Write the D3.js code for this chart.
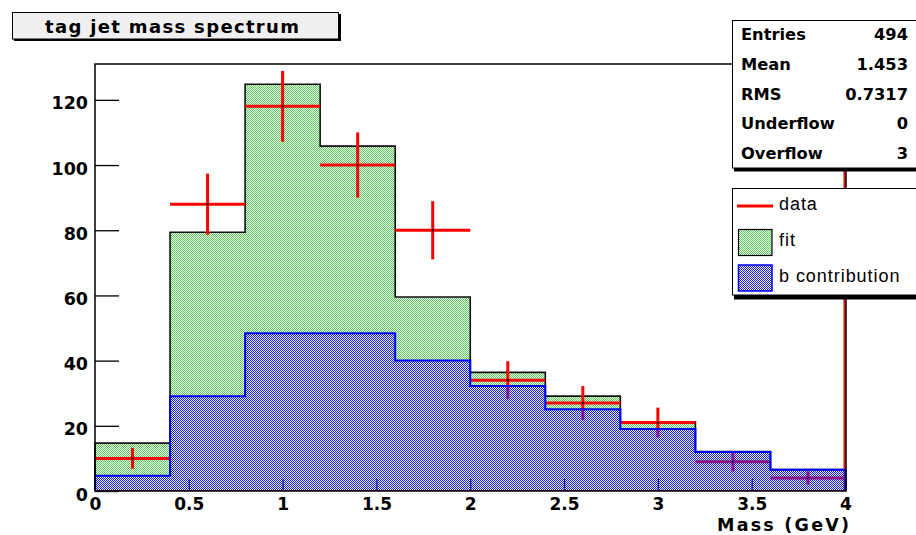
<!DOCTYPE html>
<html>
<head>
<meta charset="utf-8">
<script src="https://cdn.jsdelivr.net/npm/d3@7"></script>
<style>
  html, body { margin: 0; padding: 0; background: #fff; }
  svg { display: block; }
  .bold { font-family: "DejaVu Sans", sans-serif; font-weight: bold; }
  .reg { font-family: "Liberation Sans", Arial, sans-serif; }
</style>
</head>
<body>
<svg id="chart" width="916" height="535"></svg>
<script>
// Histogram bins (GeV) and contents
const binEdges = [0, 0.4, 0.8, 1.2, 1.6, 2.0, 2.4, 2.8, 3.2, 3.6, 4.0];
const dataCounts = [10, 88, 118, 100, 80, 34, 27, 21, 9, 4];
const fitValues = [14.7, 79.4, 124.8, 105.8, 59.5, 36.4, 29.1, 21.2, 12.1, 6.6];
const bValues = [4.7, 29.1, 48.4, 48.4, 40.0, 32.2, 25.1, 19.0, 12.0, 6.5];

// Axis ticks
const xMajorTicks = [0, 0.5, 1, 1.5, 2, 2.5, 3, 3.5, 4];
const xMinorTicks = d3.range(0, 41).map(i => i / 10);
const yMajorTicks = [0, 20, 40, 60, 80, 100, 120];
const yMinorTicks = d3.range(0, 131, 5);

// Stats and legend text
const statLabels = ["Entries", "Mean", "RMS", "Underflow", "Overflow"];
const statValues = ["494", "1.453", "0.7317", "0", "3"];
const legendLabels = ["data", "fit", "b contribution"];
const titleText = "tag jet mass spectrum";
const xTitle = "Mass (GeV)";

const svg = d3.select("#chart");
const frame = { left: 95, right: 846, top: 64, bottom: 491 };

const x = d3.scaleLinear().domain([0, 4]).range([95, 845.5]);
const y = d3.scaleLinear().domain([0, 131]).range([frame.bottom, frame.top]);

// Dotted fill patterns (half the pixels coloured, the rest see-through)
const defs = svg.append("defs");
function dotPattern(id, color, haze) {
  const p = defs.append("pattern").attr("id", id)
    .attr("patternUnits", "userSpaceOnUse").attr("width", 2).attr("height", 2);
  if (haze) p.append("rect").attr("width", 2).attr("height", 2).attr("fill", haze);
  p.append("rect").attr("x", 0).attr("y", 0).attr("width", 1).attr("height", 1).attr("fill", color);
  p.append("rect").attr("x", 1).attr("y", 1).attr("width", 1).attr("height", 1).attr("fill", color);
}
dotPattern("fitFill", "#5cc85c", "rgba(120,210,120,0.12)");
dotPattern("bFill", "#1c1cf6", "rgba(40,40,220,0.06)");

svg.append("rect").attr("width", 916).attr("height", 535).attr("fill", "#fff");

// Axes (ticks point into the frame)
const gy = svg.append("g").attr("transform", `translate(${frame.left},0)`);
gy.call(d3.axisLeft(y).tickValues(yMinorTicks).tickSize(-12).tickFormat(""));
gy.call(d3.axisLeft(y).tickValues(yMajorTicks).tickSize(-24).tickPadding(7).tickFormat(d => d));
gy.selectAll(".domain").remove();
gy.selectAll("line").attr("stroke", "#000").attr("stroke-width", 1.3);
gy.selectAll("text").attr("class", "bold").attr("font-size", 17.5)
  .attr("fill", "#000").attr("dy", null).attr("y", 9);

const gx = svg.append("g").attr("transform", `translate(0,${frame.bottom})`);
gx.call(d3.axisBottom(x).tickValues(xMinorTicks).tickSize(-6).tickFormat(""));
gx.call(d3.axisBottom(x).tickValues(xMajorTicks).tickSize(-12).tickFormat(d3.format("~g")));
gx.selectAll(".domain").remove();
gx.selectAll("line").attr("stroke", "#000").attr("stroke-width", 1.3);
gx.selectAll("text").attr("class", "bold").attr("font-size", 17).attr("fill", "#000")
  .attr("dy", null).attr("y", 18.5);

// Step outline for a binned series
function stepPoints(values) {
  const pts = [[x(binEdges[0]), y(0)]];
  values.forEach((v, i) => {
    pts.push([x(binEdges[i]), y(v)]);
    pts.push([x(binEdges[i + 1]), y(v)]);
  });
  pts.push([x(binEdges[binEdges.length - 1]), y(0)]);
  return pts;
}
const line = d3.line();

// Fit (total)
svg.append("path").attr("d", line(stepPoints(fitValues)) + "Z")
  .attr("fill", "url(#fitFill)").attr("stroke", "none");
svg.append("path").attr("d", line(stepPoints(fitValues)))
  .attr("fill", "none").attr("stroke", "#111").attr("stroke-width", 1.6);

// Data with Poisson error bars
const red = "#ff0000";
svg.append("line").attr("x1", x(0)).attr("x2", x(4)).attr("y1", y(0) - 0.5).attr("y2", y(0) - 0.5)
  .attr("stroke", red).attr("stroke-width", 1);
svg.append("line").attr("x1", x(4) - 1).attr("x2", x(4) - 1).attr("y1", frame.top).attr("y2", frame.bottom)
  .attr("stroke", red).attr("stroke-width", 2);
const gd = svg.append("g");
dataCounts.forEach((n, i) => {
  const lo = binEdges[i], hi = binEdges[i + 1], c = (lo + hi) / 2, e = Math.sqrt(n);
  gd.append("line").attr("x1", x(lo)).attr("x2", x(hi)).attr("y1", y(n)).attr("y2", y(n))
    .attr("stroke", red).attr("stroke-width", 3);
  gd.append("line").attr("x1", x(c)).attr("x2", x(c)).attr("y1", y(n + e)).attr("y2", y(n - e))
    .attr("stroke", red).attr("stroke-width", 3);
  gd.append("rect").attr("x", x(c) - 1).attr("y", y(n) - 1).attr("width", 2).attr("height", 2).attr("fill", "#000");
});

// b contribution, drawn over the data
svg.append("path").attr("d", line(stepPoints(bValues)) + "Z")
  .attr("fill", "url(#bFill)").attr("stroke", "none");
svg.append("path").attr("d", line(stepPoints(bValues)))
  .attr("fill", "none").attr("stroke", "#0000ff").attr("stroke-width", 2);

// Frame
svg.append("rect").attr("x", frame.left).attr("y", frame.top)
  .attr("width", frame.right - frame.left).attr("height", frame.bottom - frame.top)
  .attr("fill", "none").attr("stroke", "#000").attr("stroke-width", 1.5);

// X axis title
svg.append("text").attr("class", "bold").attr("x", 849).attr("y", 530.5)
  .attr("text-anchor", "end").attr("font-size", 17.5).attr("textLength", 132)
  .attr("lengthAdjust", "spacing").text(xTitle);

// Title box with shadow
svg.append("rect").attr("x", 14).attr("y", 14).attr("width", 327).attr("height", 27).attr("fill", "#000");
svg.append("rect").attr("x", 12.5).attr("y", 12.5).attr("width", 326).attr("height", 26.5)
  .attr("fill", "#f0f0f0").attr("stroke", "#000").attr("stroke-width", 1);
svg.append("text").attr("class", "bold").attr("x", 172).attr("y", 33)
  .attr("text-anchor", "middle").attr("font-size", 18).attr("textLength", 254)
  .attr("lengthAdjust", "spacing").text(titleText);

// Stats box
svg.append("rect").attr("x", 734).attr("y", 22).attr("width", 200).attr("height", 149.5).attr("fill", "#000");
svg.append("rect").attr("x", 732.5).attr("y", 20.5).attr("width", 200).attr("height", 147.5)
  .attr("fill", "#fff").attr("stroke", "#000").attr("stroke-width", 1);
statLabels.forEach((s, i) => {
  const by = 40 + i * 29.8;
  svg.append("text").attr("class", "bold").attr("x", 741).attr("y", by)
    .attr("font-size", 16.3).text(s);
  svg.append("text").attr("class", "bold").attr("x", 908).attr("y", by)
    .attr("text-anchor", "end").attr("font-size", 16.3).text(statValues[i]);
});

// Legend box
svg.append("rect").attr("x", 734).attr("y", 190).attr("width", 200).attr("height", 109.5).attr("fill", "#000");
svg.append("rect").attr("x", 732.5).attr("y", 188.5).attr("width", 200).attr("height", 106.5)
  .attr("fill", "#fff").attr("stroke", "#000").attr("stroke-width", 1);
svg.append("line").attr("x1", 737).attr("x2", 773).attr("y1", 206).attr("y2", 206)
  .attr("stroke", red).attr("stroke-width", 3);
svg.append("rect").attr("x", 738.5).attr("y", 229.5).attr("width", 33.5).attr("height", 26)
  .attr("fill", "url(#fitFill)").attr("stroke", "#000").attr("stroke-width", 1.2);
svg.append("rect").attr("x", 738.5).attr("y", 265).attr("width", 33.5).attr("height", 26)
  .attr("fill", "url(#bFill)").attr("stroke", "#0000ff").attr("stroke-width", 1.5);
[210, 246, 281.5].forEach((by, i) => {
  svg.append("text").attr("class", "reg").attr("x", 779).attr("y", by)
    .attr("font-size", 18).attr("letter-spacing", 0.95).attr("fill", "#000").text(legendLabels[i]);
});
</script>
</body>
</html>
